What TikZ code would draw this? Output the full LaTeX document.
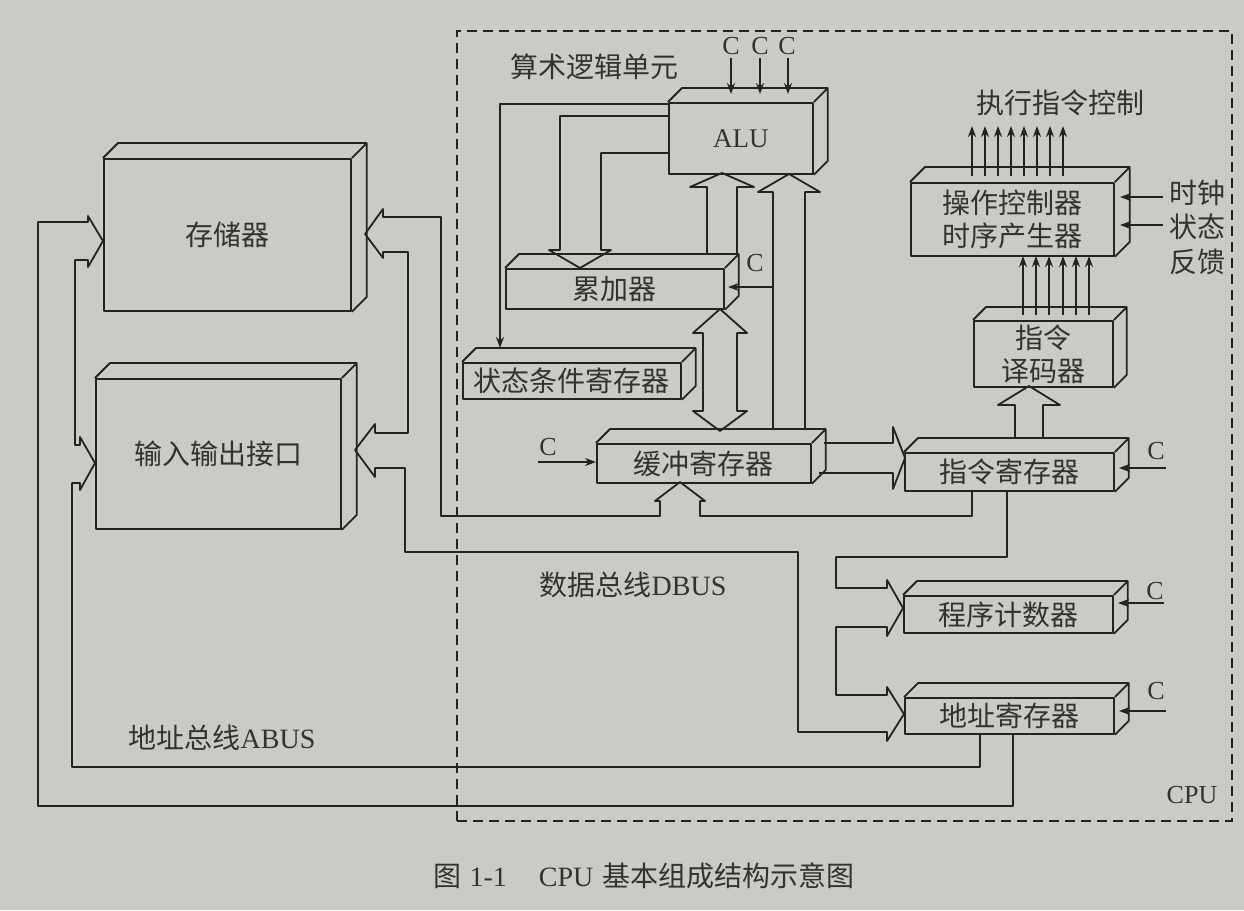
\documentclass[tikz,border=0pt]{standalone}
\usepackage{fontspec}
\setmainfont{Liberation Serif}
\newfontfamily\cjk{Noto Sans CJK SC}
\usetikzlibrary{calc,arrows.meta}
\definecolor{bg}{RGB}{203,203,198}
\definecolor{lc}{RGB}{35,35,35}
\definecolor{tc}{RGB}{50,50,50}
\newcommand\boxfont{\cjk\fontsize{28pt}{33pt}\selectfont}
\newcommand\latfont{\fontsize{28pt}{33pt}\selectfont}
\newcommand\alufont{\fontsize{27pt}{30pt}\selectfont}
\newcommand\cfont{\fontsize{26pt}{28pt}\selectfont}
\newcommand\cubefaces[2]{\draw[ln] (#1.north west) -- ++(#2,-#2) -- ($(#1.north east)+(#2,-#2)$) -- ($(#1.south east)+(#2,-#2)$) -- (#1.south east) (#1.north east) -- ++(#2,-#2);}
\begin{document}
\begin{tikzpicture}[x=1pt,y=-1pt,
  ln/.style={draw=lc, line width=1.8pt, line join=round},
  arr/.style={ln, -{Stealth[length=11pt,width=8pt]}},
  box/.style={ln, text=tc, inner sep=0pt, anchor=north west, align=center, font=\boxfont},
  lbl/.style={text=tc, inner sep=0pt, font=\boxfont},
  clbl/.style={text=tc, inner sep=0pt, font=\cfont},
  cpuframe/.style={draw=lc, line width=1.5pt, dash pattern=on 10pt off 6pt, inner sep=0pt, anchor=north west}]
\fill[bg] (0,0) rectangle (1244,910);
\useasboundingbox (0,0) rectangle (1244,910);

% CPU frame
\node[cpuframe, minimum width=775pt, minimum height=790pt] (cpu) at (456,30) {};

% boxes
\node[box, minimum width=247pt, minimum height=152pt] (mem) at (103,158) {存储器};
\node[box, minimum width=245pt, minimum height=150pt] (io) at (95,378) {输入输出接口};
\node[box, minimum width=144pt, minimum height=71pt, font=\alufont] (alu) at (668,102) {ALU};
\node[box, minimum width=218pt, minimum height=40pt] (acc) at (505,268) {累加器};
\node[box, minimum width=218pt, minimum height=36pt] (sr) at (462,362) {状态条件寄存器};
\node[box, minimum width=214pt, minimum height=39pt] (buf) at (596,443) {缓冲寄存器};
\node[box, minimum width=203pt, minimum height=73pt] (ctl) at (910,182) {操作控制器\\时序产生器};
\node[box, minimum width=139pt, minimum height=66pt] (dec) at (973,320) {指令\\译码器};
\node[box, minimum width=209pt, minimum height=38pt] (ir) at (904,452) {指令寄存器};
\node[box, minimum width=209pt, minimum height=37pt] (pc) at (903,595) {程序计数器};
\node[box, minimum width=209pt, minimum height=36pt] (ar) at (904,697) {地址寄存器};

\cubefaces{mem}{15}
\cubefaces{io}{15}
\cubefaces{alu}{14}
\cubefaces{acc}{14}
\cubefaces{sr}{14}
\cubefaces{buf}{14}
\cubefaces{ctl}{15}
\cubefaces{dec}{13}
\cubefaces{ir}{14}
\cubefaces{pc}{14}
\cubefaces{ar}{14}

% hollow arrows inside CPU
% ALU -> accumulator
\draw[ln] (alu.west |- 0,116) -- (560,116) -- (560,250) -- (549,250) -- (580,268) -- (611,250) -- (601,250) -- (601,153) -- (alu.west |- 0,153);
% accumulator -> ALU
\draw[ln] (707,254) -- (707,187) -- (690,187) -- (722,173) -- (754,187) -- (737,187) -- (737,254);
% buffer -> ALU
\draw[ln] (773,430) -- (773,192) -- (758,192) -- (789,174) -- (820,192) -- (805,192) -- (805,430);
% accumulator <-> buffer
\draw[ln] (720,309) -- (747,333) -- (737,333) -- (737,411) -- (747,411) -- (720,431) -- (693,411) -- (703,411) -- (703,333) -- (693,333) -- cycle;
% buffer -> instruction register
\draw[ln] (824,443) -- (893,443) -- (893,427) -- (905,458) -- (893,489) -- (893,473) -- (819,473);
% instruction register -> decoder
\draw[ln] (1015,438) -- (1015,405) -- (998,405) -- (1029,386) -- (1060,405) -- (1043,405) -- (1043,438);

% data bus DBUS
\draw[ln] (1007,490) -- (1007,557) -- (836,557) -- (836,588) -- (887,588) -- (887,580) -- (903,608) -- (887,636) -- (887,627) -- (836,627) -- (836,695) -- (887,695) -- (887,687) -- (904,714) -- (887,741) -- (887,732) -- (798,732) -- (798,552) -- (405,552) -- (405,468) -- (375,468) -- (375,477) -- (355,450) -- (375,424) -- (375,433) -- (408,433) -- (408,252) -- (383,252) -- (383,258) -- (365,234) -- (383,209) -- (383,217) -- (441,217) -- (441,516) -- (660,516) -- (660,501) -- (655,501) -- (680,482) -- (705,501) -- (700,501) -- (700,516) -- (972,516) -- (972,490);

% address bus ABUS
\draw[ln] (1013,733) -- (1013,806) -- (38,806) -- (38,222) -- (88,222) -- (88,216) -- (103,241) -- (88,267) -- (88,260) -- (75,260) -- (75,445) -- (80,445) -- (80,437) -- (95,463) -- (80,490) -- (80,483) -- (72,483) -- (72,767) -- (980,767) -- (980,733);

% thin arrows
\draw[arr] (alu.west |- 0,104) -- (500,104) -- (500,348);
\foreach \x in {731,760,788} \draw[arr] (\x,58) -- (\x,94);
\draw[arr] (773,287) -- (728,287);
\draw[arr] (538,462) -- (buf.west |- 0,462);
\draw[arr] (1166,468) -- (1119,468);
\draw[arr] (1164,603) -- (1118,603);
\draw[arr] (1166,711) -- (1119,711);
\draw[arr] (1163,197) -- (1120,197);
\draw[arr] (1163,225) -- (1120,225);
\foreach \x in {1023,1036,1049,1063,1076,1089} \draw[arr] (\x,315) -- (\x,256);
\foreach \x in {972,985,998,1011,1024,1037,1050,1063} \draw[arr] (\x,176) -- (\x,126);

% labels
\node[lbl] (lalu) at (594,67) {算术逻辑单元};
\node[lbl] (lexe) at (1060,103) {执行指令控制};
\node[lbl] (lclk) at (1197,193) {时钟};
\node[lbl] (lst) at (1197,227) {状态};
\node[lbl] (lfb) at (1197,262) {反馈};
\node[clbl] (c1) at (731,46) {C};
\node[clbl] (c2) at (760,46) {C};
\node[clbl] (c3) at (787,46) {C};
\node[clbl] (c4) at (755,263) {C};
\node[clbl] (c5) at (548,447) {C};
\node[clbl] (c6) at (1156,451) {C};
\node[clbl] (c7) at (1155,591) {C};
\node[clbl] (c8) at (1156,691) {C};
\node[clbl] (lcpu) at (1192,795) {CPU};
\node[lbl, font=\latfont] (ldbus) at (633,585) {{\cjk 数据总线}DBUS};
\node[lbl, font=\latfont] (labus) at (222,738) {{\cjk 地址总线}ABUS};
\node[lbl, font=\latfont] (cap) at (644,876) {{\cjk 图}\hspace{8pt}1-1\hspace{32pt}CPU\hspace{9pt}{\cjk 基本组成结构示意图}};
\end{tikzpicture}
\end{document}
